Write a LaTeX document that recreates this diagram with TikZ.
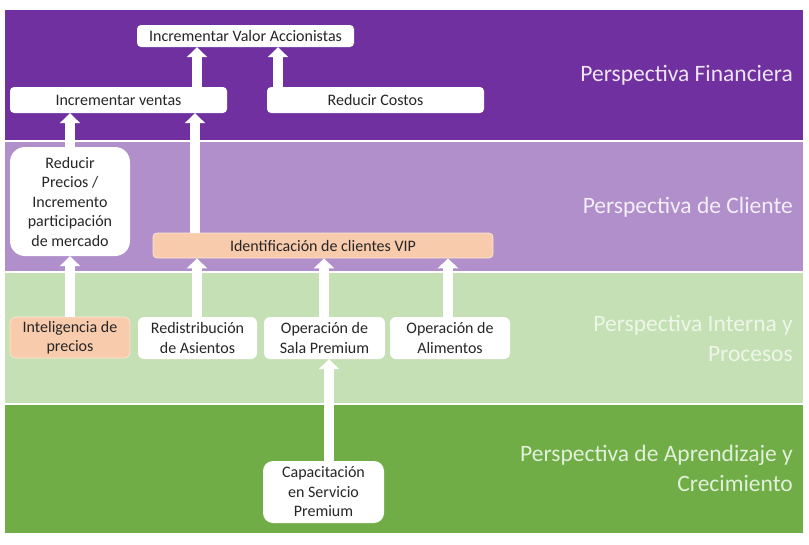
\documentclass[tikz,border=0pt]{standalone}
\usepackage{fontspec}
\setmainfont{Carlito}
\usetikzlibrary{arrows.meta}
\definecolor{fpurple}{HTML}{7030A0}
\definecolor{cpurple}{HTML}{B08FCB}
\definecolor{igreen}{HTML}{C5E0B4}
\definecolor{agreen}{HTML}{70AD47}
\definecolor{peach}{HTML}{F8CBAD}
\definecolor{peachline}{HTML}{FCE4D3}
\definecolor{boxtext}{HTML}{262626}
\definecolor{lblpurple}{HTML}{EDE4F5}
\definecolor{lblcpurple}{HTML}{F3EEF8}
\definecolor{lbligreen}{HTML}{EEF6E9}
\definecolor{lblagreen}{HTML}{E2F0D9}
\begin{document}
\begin{tikzpicture}[x=1pt,y=-1pt,
  band/.style={fill=#1,draw=none},
  wbox/.style={fill=white,draw=none,rounded corners=#1,inner sep=0pt,align=center,
    text=boxtext,font=\fontsize{16}{19.5}\selectfont},
  wbox/.default=4pt,
  pbox/.style={wbox=#1,fill=peach,draw=peachline,line width=0.8pt},
  pbox/.default=4pt,
  lbl/.style={anchor=east,align=right,font=\fontsize{23.5}{30}\selectfont,inner sep=0pt},
  blk/.style={draw=white,line width=10pt,-{Triangle[width=20pt,length=10pt]},shorten >=0pt}
]
\useasboundingbox (0,0) rectangle (809,544);
\fill[white] (0,0) rectangle (809,544);
% bands
\fill[band=fpurple] (5,10) rectangle (803,140);
\fill[band=cpurple] (5,142) rectangle (803,271);
\fill[band=igreen] (5,273) rectangle (803,403);
\fill[band=agreen] (5,405) rectangle (803,533);
% labels
\node[lbl,text=lblpurple] (l1) at (793,75) {Perspectiva Financiera};
\node[lbl,text=lblcpurple] (l2) at (793,207) {Perspectiva de Cliente};
\node[lbl,text=lbligreen] (l3) at (793,338) {Perspectiva Interna y\\Procesos};
\node[lbl,text=lblagreen] (l4) at (793,468.5) {Perspectiva de Aprendizaje y\\Crecimiento};
% boxes
\node[wbox,minimum width=217pt,minimum height=22pt] (valor) at (245.5,36) {Incrementar Valor Accionistas};
\node[wbox,minimum width=217pt,minimum height=26pt] (ventas) at (118.5,100) {Incrementar ventas};
\node[wbox,minimum width=217pt,minimum height=26pt] (costos) at (375.5,100) {Reducir Costos};
\node[wbox=15pt,minimum width=120pt,minimum height=109pt] (rp) at (70,201.5) {Reducir\\Precios /\\Incremento\\participación\\de mercado};
\node[pbox,minimum width=340pt,minimum height=25pt] (vip) at (323,245.5) {Identificación de clientes VIP};
\node[pbox=6pt,minimum width=120pt,minimum height=41pt] (intel) at (70,337.5) {Inteligencia de\\precios};
\node[wbox=6pt,minimum width=119pt,minimum height=42pt] (redis) at (197.5,338) {Redistribución\\de Asientos};
\node[wbox=6pt,minimum width=121pt,minimum height=42pt] (sala) at (324.5,338) {Operación de\\Sala Premium};
\node[wbox=6pt,minimum width=120pt,minimum height=42pt] (alim) at (450,338) {Operación de\\Alimentos};
\node[wbox=10pt,minimum width=121pt,minimum height=62pt] (cap) at (323.5,492) {Capacitación\\en Servicio\\Premium};
% arrow columns
\coordinate (c197) at (197,0);
\coordinate (c278) at (278,0);
\coordinate (c70) at (70,0);
\coordinate (c195) at (195,0);
\coordinate (c323) at (324,0);
\coordinate (c447) at (448,0);
\coordinate (c328) at (329,0);
% arrows
\draw[blk] (ventas.north -| c197) -- (valor.south -| c197);
\draw[blk] (costos.north -| c278) -- (valor.south -| c278);
\draw[blk] (rp.north -| c70) -- (ventas.south -| c70);
\draw[blk] (vip.north -| c195) -- (ventas.south -| c195);
\draw[blk] (intel.north -| c70) -- (rp.south -| c70);
\draw[blk] (redis.north -| c197) -- (vip.south -| c197);
\draw[blk] (sala.north -| c323) -- (vip.south -| c323);
\draw[blk] (alim.north -| c447) -- (vip.south -| c447);
\draw[blk] (cap.north -| c328) -- (sala.south -| c328);
\end{tikzpicture}
\end{document}
